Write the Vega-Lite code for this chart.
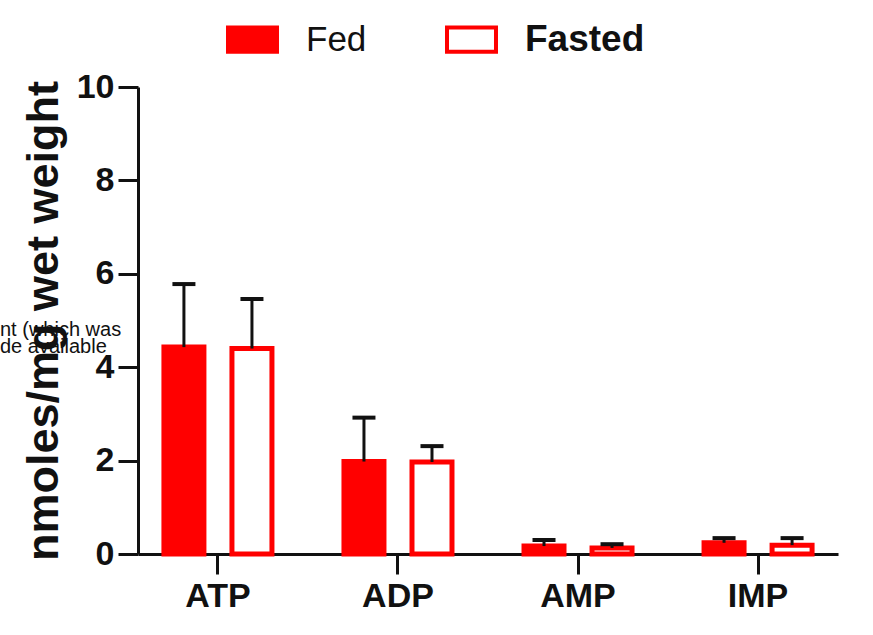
{
  "$schema": "https://vega.github.io/schema/vega-lite/v6.json",
  "autosize": "none",
  "width": 700,
  "height": 467,
  "padding": {"left": 138, "top": 87, "right": 35, "bottom": 81},
  "background": "white",
  "config": {"view": {"stroke": null}, "font": "Liberation Sans"},
  "data": {
    "values": [
      {"metabolite": "ATP", "group": "Fed", "mean": 4.43, "upper": 5.78},
      {"metabolite": "ATP", "group": "Fasted", "mean": 4.4, "upper": 5.46},
      {"metabolite": "ADP", "group": "Fed", "mean": 1.98, "upper": 2.92},
      {"metabolite": "ADP", "group": "Fasted", "mean": 1.97, "upper": 2.31},
      {"metabolite": "AMP", "group": "Fed", "mean": 0.17, "upper": 0.3},
      {"metabolite": "AMP", "group": "Fasted", "mean": 0.13, "upper": 0.21},
      {"metabolite": "IMP", "group": "Fed", "mean": 0.24, "upper": 0.34},
      {"metabolite": "IMP", "group": "Fasted", "mean": 0.19, "upper": 0.34}
    ]
  },
  "layer": [
    {
      "mark": {"type": "bar", "stroke": "#ff0000", "strokeWidth": 5, "opacity": 1},
      "encoding": {
        "x": {
          "field": "metabolite", "type": "nominal", "sort": ["ATP", "ADP", "AMP", "IMP"],
          "scale": {"paddingInner": 0.4, "paddingOuter": 0.144},
          "axis": {
            "title": null, "labelAngle": 0, "labelFontSize": 34, "labelFontWeight": "bold",
            "labelColor": "#111", "labelPadding": 5, "tickSize": 20, "tickWidth": 3,
            "tickColor": "#111", "domainColor": "#111", "domainWidth": 3, "grid": false
          }
        },
        "xOffset": {
          "field": "group", "type": "nominal", "sort": ["Fed", "Fasted"],
          "scale": {"paddingInner": 0.412, "paddingOuter": 0}
        },
        "y": {
          "field": "mean", "type": "quantitative",
          "scale": {"domain": [0, 10], "nice": false},
          "axis": {
            "values": [0, 2, 4, 6, 8, 10], "title": "nmoles/mg wet weight",
            "titleFontSize": 45, "titleFontWeight": "bold", "titleColor": "#111", "titlePadding": 10,
            "labelFontSize": 34, "labelFontWeight": "bold", "labelColor": "#111", "labelPadding": 4,
            "tickSize": 20, "tickWidth": 3, "tickColor": "#111", "domainColor": "#111", "domainWidth": 3,
            "grid": false
          }
        },
        "fill": {
          "field": "group", "type": "nominal",
          "scale": {"domain": ["Fed", "Fasted"], "range": ["#ff0000", "#ffffff"]},
          "legend": {
            "title": null, "orient": "none", "legendX": 88, "legendY": -74, "direction": "horizontal",
            "symbolType": "M-1,-0.5H1V0.5H-1Z", "symbolSize": 2400, "symbolStrokeColor": "#ff0000",
            "symbolStrokeWidth": 4, "symbolOpacity": 1, "labelColor": "#111",
            "labelFontSize": {"expr": "datum.label === 'Fasted' ? 37 : 35"},
            "labelFontWeight": {"expr": "datum.label === 'Fasted' ? 'bold' : 'normal'"},
            "labelOffset": 27, "columnPadding": 72
          }
        }
      }
    },
    {
      "mark": {"type": "rule", "strokeWidth": 3, "color": "#111", "opacity": 1},
      "encoding": {
        "x": {"field": "metabolite", "type": "nominal", "sort": ["ATP", "ADP", "AMP", "IMP"]},
        "xOffset": {"field": "group", "type": "nominal", "sort": ["Fed", "Fasted"]},
        "y": {"field": "mean", "type": "quantitative"},
        "y2": {"field": "upper"}
      }
    },
    {
      "mark": {"type": "tick", "thickness": 4, "size": 23, "color": "#111", "opacity": 1},
      "encoding": {
        "x": {"field": "metabolite", "type": "nominal", "sort": ["ATP", "ADP", "AMP", "IMP"]},
        "xOffset": {"field": "group", "type": "nominal", "sort": ["Fed", "Fasted"]},
        "y": {"field": "upper", "type": "quantitative"}
      }
    },
    {
      "data": {"values": [{"note": "caption"}]},
      "mark": {
        "type": "text", "text": ["nt (which was", "de available"], "align": "left",
        "baseline": "alphabetic", "fontSize": 20, "lineHeight": 17, "color": "#111"
      },
      "encoding": {"x": {"value": -138}, "y": {"datum": 4.67}}
    }
  ]
}
